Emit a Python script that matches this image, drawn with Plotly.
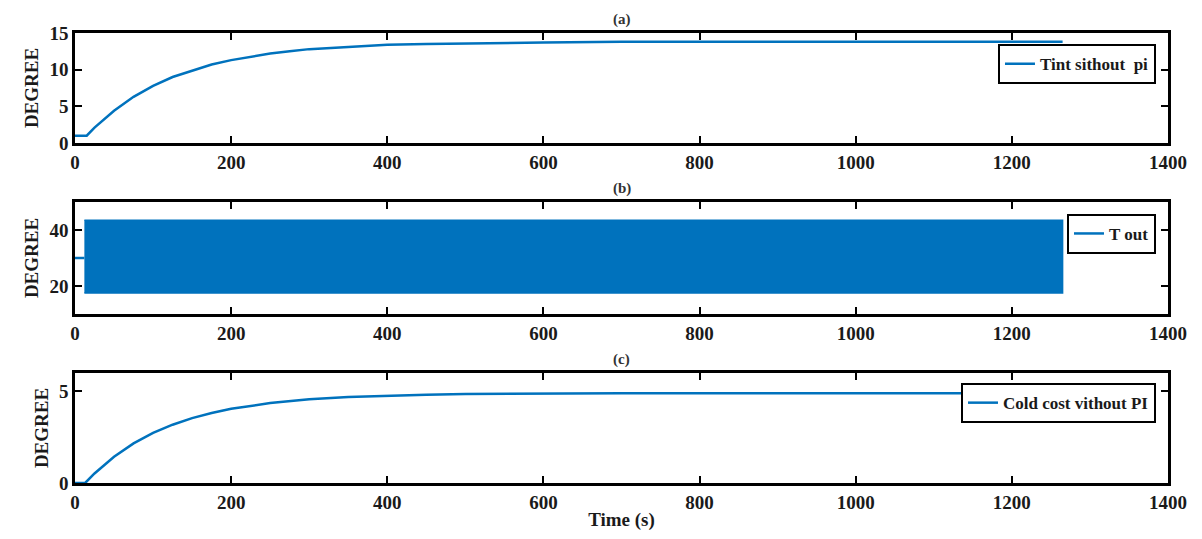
import plotly.graph_objects as go
from plotly.subplots import make_subplots

# ---- data ----
tint_t = [0, 10, 15, 25, 50, 75, 100, 125, 150, 175, 200, 225, 250, 275, 300,
          350, 400, 450, 500, 600, 700, 800, 1000, 1265]
tint_v = [1.0, 1.0, 1.0, 2.1, 4.4, 6.3, 7.8, 9.0, 9.9, 10.7, 11.3, 11.8, 12.2,
          12.5, 12.8, 13.1, 13.4, 13.5, 13.6, 13.7, 13.8, 13.8, 13.8, 13.8]

tout_init_t = [0, 12]
tout_init_v = [30, 30]
tout_band_t = [12, 1265]
tout_upper = [43.5, 43.5]
tout_lower = [17.5, 17.5]

cold_t = [0, 13, 25, 50, 75, 100, 125, 150, 175, 200, 250, 300, 350, 400, 450,
          500, 600, 700, 900, 1265]
cold_v = [0.0, 0.0, 0.52, 1.43, 2.16, 2.73, 3.18, 3.54, 3.82, 4.05, 4.36, 4.57,
          4.69, 4.77, 4.82, 4.85, 4.88, 4.9, 4.9, 4.9]

panel_titles = ["(a)", "(b)", "(c)"]
legend_names = ["Tint sithout  pi", "T out", "Cold cost vithout PI"]
x_ticks = [0, 200, 400, 600, 800, 1000, 1200, 1400]

BLUE = "#0072BD"
FONT = "Liberation Serif, Times New Roman, serif"
TXT = "#1a1a1a"

fig = make_subplots(rows=3, cols=1, shared_xaxes=False, vertical_spacing=0.13)

fig.add_trace(go.Scatter(x=tint_t, y=tint_v, mode="lines",
                         line=dict(color=BLUE, width=2.5),
                         name=legend_names[0], legend="legend", showlegend=True),
              row=1, col=1)

fig.add_trace(go.Scatter(x=tout_init_t, y=tout_init_v, mode="lines",
                         line=dict(color=BLUE, width=2.5),
                         name=legend_names[1], legend="legend2", showlegend=True),
              row=2, col=1)
band_x = tout_band_t + tout_band_t[::-1]
band_y = tout_upper + tout_lower[::-1]
fig.add_trace(go.Scatter(x=band_x, y=band_y, mode="lines", fill="toself",
                         fillcolor=BLUE, line=dict(color=BLUE, width=1.5),
                         showlegend=False, legend="legend2"), row=2, col=1)

fig.add_trace(go.Scatter(x=cold_t, y=cold_v, mode="lines",
                         line=dict(color=BLUE, width=2.5),
                         name=legend_names[2], legend="legend3", showlegend=True),
              row=3, col=1)

domains = [[0.7556, 1.0], [0.3756, 0.6244], [0.0, 0.2444]]
yranges = [[0, 15], [10, 50], [0, 6]]
ydticks = [5, 20, 5]

axis_common = dict(showline=True, linecolor="black", linewidth=2.5, mirror="ticks",
                   ticks="inside", ticklen=7, tickwidth=2, tickcolor="black",
                   showgrid=False, zeroline=False, automargin=False,
                   tickfont=dict(family=FONT, size=19, color=TXT, weight="bold"))

for i in range(3):
    xa = "xaxis" if i == 0 else f"xaxis{i+1}"
    ya = "yaxis" if i == 0 else f"yaxis{i+1}"
    fig.layout[xa].update(range=[0, 1400], tickvals=x_ticks, **axis_common)
    fig.layout[ya].update(range=yranges[i], dtick=ydticks[i], tick0=0,
                          domain=domains[i],
                          title=dict(text="<b>DEGREE</b>", standoff=6,
                                     font=dict(family=FONT, size=19, color=TXT)),
                          **axis_common)
    fig.add_annotation(text=f"<b>{panel_titles[i]}</b>", xref="paper", yref="paper",
                       x=0.5, y=domains[i][1], yanchor="bottom", xanchor="center",
                       yshift=3, showarrow=False,
                       font=dict(family=FONT, size=15, color="#333"))

fig.layout["xaxis3"].title = dict(text="<b>Time (s)</b>", standoff=2,
                                  font=dict(family=FONT, size=19, color=TXT))

leg_common = dict(bgcolor="white", bordercolor="black", borderwidth=2,
                  xanchor="right", yanchor="top",
                  font=dict(family=FONT, size=17, color=TXT, weight="bold"),
                  itemwidth=30, tracegroupgap=0)

fig.update_layout(
    width=1202, height=539,
    margin=dict(l=67, r=42, t=25, b=64),
    plot_bgcolor="white", paper_bgcolor="white",
    showlegend=True,
    legend=dict(x=0.989, y=0.975, **leg_common),
    legend2=dict(x=0.989, y=0.598, **leg_common),
    legend3=dict(x=0.989, y=0.222, **leg_common),
    font=dict(family=FONT, color=TXT),
)

fig.write_html("out.html")
